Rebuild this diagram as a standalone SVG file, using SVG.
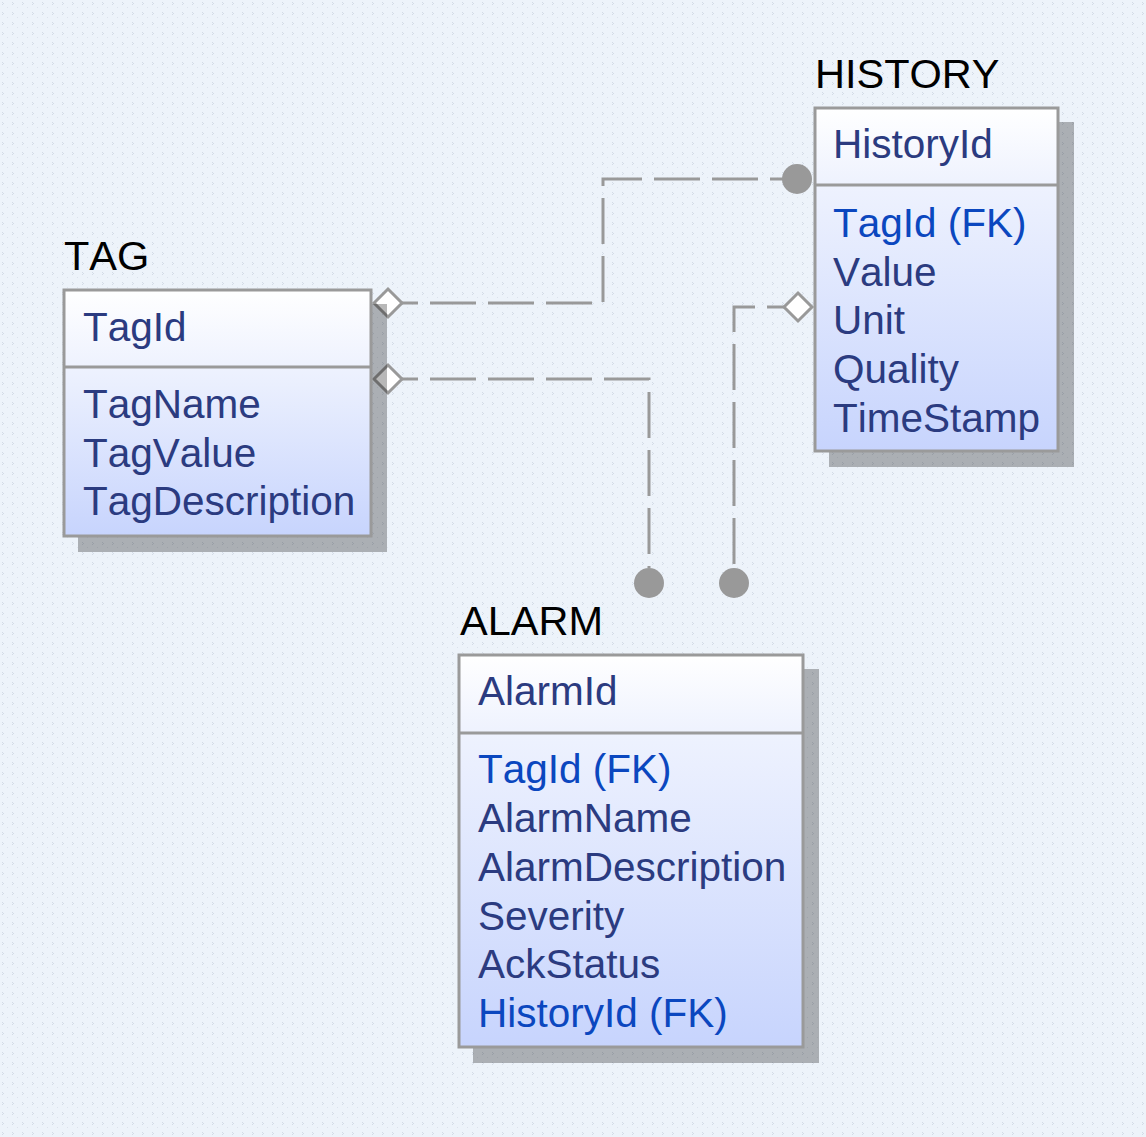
<svg xmlns="http://www.w3.org/2000/svg" width="1146" height="1137" viewBox="0 0 1146 1137">
<defs>
  <pattern id="bgp" width="10" height="10" patternUnits="userSpaceOnUse">
    <rect width="10" height="10" fill="#edf3fa"/>
    <rect x="2" y="2" width="1" height="1" fill="#d3dbe6"/>
    <rect x="3" y="3" width="1" height="1" fill="#d3dbe6"/>
    <rect x="2" y="4" width="1" height="1" fill="#d3dbe6"/>
    <rect x="7" y="7" width="1" height="1" fill="#dbe2ec"/>
  </pattern>
  <linearGradient id="hdr" x1="0" y1="0" x2="0" y2="1">
    <stop offset="0" stop-color="#ffffff"/>
    <stop offset="1" stop-color="#eef2fe"/>
  </linearGradient>
  <linearGradient id="body" x1="0" y1="0" x2="0" y2="1">
    <stop offset="0" stop-color="#eef2fe"/>
    <stop offset="1" stop-color="#c7d4fd"/>
  </linearGradient>
  <style>
    text{font-kerning:none}
    .title{font-family:"Liberation Sans",Arial,sans-serif;font-size:41.5px;fill:#000}
    .fld{font-family:"Liberation Sans",Arial,sans-serif;font-size:40.5px;fill:#2b3b80}
    .fk{fill:#0b47bf}
    .shadow{fill:#000;fill-opacity:0.28}
    .hdr{fill:url(#hdr)}
    .body{fill:url(#body)}
    .frame{fill:none;stroke:#9a9a9a;stroke-width:3}
    .div{stroke:#9a9a9a;stroke-width:3}
    .conn{fill:none;stroke:#999;stroke-width:3;stroke-dasharray:46 12}
    .dot{fill:#999}
    .dia{fill:#fff;stroke:#999;stroke-width:3}
  </style>
</defs>
<rect width="1146" height="1137" fill="url(#bgp)"/>

<g id="connectors">
  <path class="conn" stroke-dashoffset="30" d="M402,303 H603 V179 H783"/>
  <circle class="dot" cx="797" cy="179" r="15"/>
  <polygon class="dia" points="374,303 388,289 402,303 388,317"/>

  <path class="conn" stroke-dashoffset="30" d="M402,379 H649 V568"/>
  <circle class="dot" cx="649" cy="583" r="15"/>
  <polygon class="dia" points="374,379 388,365 402,379 388,393"/>

  <path class="conn" stroke-dashoffset="29" d="M784,307 H734 V568"/>
  <circle class="dot" cx="734" cy="583" r="15"/>
  <polygon class="dia" points="784,307 798,293 812,307 798,321"/>
</g>

<g id="TAG">
  <text class="title" x="64" y="270">TAG</text>
  <rect class="shadow" x="78" y="304" width="309" height="248"/>
  <rect class="hdr" x="64" y="290" width="307" height="77"/>
  <rect class="body" x="64" y="367" width="307" height="169"/>
  <rect class="frame" x="64" y="290" width="307" height="246"/>
  <line class="div" x1="64" y1="367" x2="371" y2="367"/>
  <text class="fld" x="83" y="341">TagId</text>
  <text class="fld" x="83" y="418">TagName</text>
  <text class="fld" x="83" y="467">TagValue</text>
  <text class="fld" x="83" y="515">TagDescription</text>
</g>

<g id="HISTORY">
  <text class="title" x="815" y="88">HISTORY</text>
  <rect class="shadow" x="829" y="122" width="245" height="345"/>
  <rect class="hdr" x="815" y="108" width="243" height="77"/>
  <rect class="body" x="815" y="185" width="243" height="266"/>
  <rect class="frame" x="815" y="108" width="243" height="343"/>
  <line class="div" x1="815" y1="185" x2="1058" y2="185"/>
  <text class="fld" x="833" y="158">HistoryId</text>
  <text class="fld fk" x="833" y="237">TagId (FK)</text>
  <text class="fld" x="833" y="286">Value</text>
  <text class="fld" x="833" y="334">Unit</text>
  <text class="fld" x="833" y="383">Quality</text>
  <text class="fld" x="833" y="432">TimeStamp</text>
</g>

<g id="ALARM">
  <text class="title" x="460" y="635">ALARM</text>
  <rect class="shadow" x="473" y="669" width="346" height="394"/>
  <rect class="hdr" x="459" y="655" width="344" height="78"/>
  <rect class="body" x="459" y="733" width="344" height="314"/>
  <rect class="frame" x="459" y="655" width="344" height="392"/>
  <line class="div" x1="459" y1="733" x2="803" y2="733"/>
  <text class="fld" x="478" y="705">AlarmId</text>
  <text class="fld fk" x="478" y="783">TagId (FK)</text>
  <text class="fld" x="478" y="832">AlarmName</text>
  <text class="fld" x="478" y="881">AlarmDescription</text>
  <text class="fld" x="478" y="930">Severity</text>
  <text class="fld" x="478" y="978">AckStatus</text>
  <text class="fld fk" x="478" y="1027">HistoryId (FK)</text>
</g>
</svg>
